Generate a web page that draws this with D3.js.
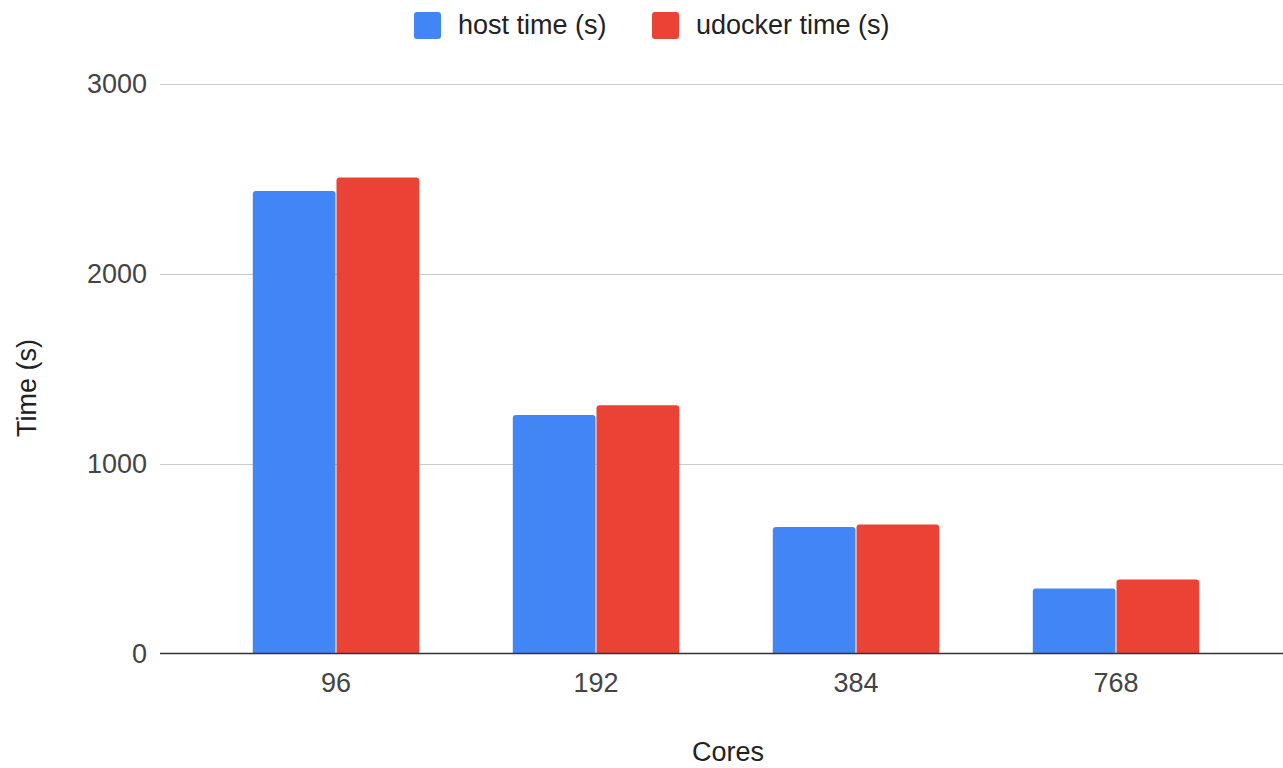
<!DOCTYPE html>
<html>
<head>
<meta charset="utf-8">
<script src="https://cdn.jsdelivr.net/npm/d3@7"></script>
<style>
  html, body { margin: 0; padding: 0; background: #fff; }
  svg { display: block; font-family: "Liberation Sans", Arial, sans-serif; }
</style>
</head>
<body>
<svg id="chart" width="1283" height="768"></svg>
<script>
// Benchmark: run time by core count, host vs udocker
const categories = ["96", "192", "384", "768"];
const seriesNames = ["host time (s)", "udocker time (s)"];
const hostTime = [2437, 1256, 667, 342];
const udockerTime = [2508, 1308, 680, 390];
const yTicks = [0, 1000, 2000, 3000];
const colors = ["#4285F4", "#EA4335"];

const rows = categories.map((c, i) => ({ cat: c, values: [hostTime[i], udockerTime[i]] }));

const svg = d3.select("#chart");
const plot = { left: 160, right: 1283, top: 84, bottom: 653.5 };

const y = d3.scaleLinear().domain([0, 3000]).range([plot.bottom, plot.top]);
const x0 = d3.scaleBand().domain(categories).range([206, 1246])
  .paddingInner(0.36).paddingOuter(0.18);
const x1 = d3.scaleBand().domain([0, 1]).range([0, x0.bandwidth()]).paddingInner(0.012);

// gridlines
svg.append("g").selectAll("line").data(yTicks.filter(d => d > 0)).join("line")
  .attr("x1", plot.left).attr("x2", plot.right)
  .attr("y1", d => Math.round(y(d)) + 0.5).attr("y2", d => Math.round(y(d)) + 0.5)
  .attr("stroke", "#cccccc").attr("stroke-width", 1);

// y tick labels
const yAxis = d3.axisLeft(y).tickValues(yTicks).tickSize(0).tickPadding(0).tickFormat(d3.format("d"));
const yg = svg.append("g").attr("transform", "translate(147,0)").call(yAxis);
yg.select(".domain").remove();
yg.selectAll("text").attr("font-size", 27).attr("fill", "#444").attr("font-family", "Liberation Sans, Arial, sans-serif");

// bars with rounded top corners
function topRounded(x, yTop, w, h, r) {
  r = Math.min(r, w / 2, h);
  return `M${x},${yTop + h}V${yTop + r}Q${x},${yTop} ${x + r},${yTop}H${x + w - r}Q${x + w},${yTop} ${x + w},${yTop + r}V${yTop + h}Z`;
}

const groups = svg.append("g").selectAll("g").data(rows).join("g")
  .attr("transform", d => `translate(${x0(d.cat)},0)`);
groups.selectAll("path").data(d => d.values.map((v, i) => ({ v, i }))).join("path")
  .attr("d", d => topRounded(x1(d.i), y(d.v), x1.bandwidth(), y(0) - y(d.v), 3))
  .attr("fill", d => colors[d.i]);

// baseline
svg.append("line")
  .attr("x1", plot.left).attr("x2", plot.right)
  .attr("y1", plot.bottom).attr("y2", plot.bottom)
  .attr("stroke", "#333").attr("stroke-width", 1.6);

// x tick labels
const xAxis = d3.axisBottom(x0).tickSize(0).tickPadding(0);
const xg = svg.append("g").attr("transform", "translate(0,692)").call(xAxis);
xg.select(".domain").remove();
xg.selectAll("text").attr("dy", 0).attr("font-size", 27).attr("fill", "#444")
  .attr("font-family", "Liberation Sans, Arial, sans-serif");

// axis titles
svg.append("text").attr("x", 728).attr("y", 761).attr("text-anchor", "middle")
  .attr("font-size", 27).attr("fill", "#222").text("Cores");
svg.append("text").attr("transform", "translate(36,388) rotate(-90)").attr("text-anchor", "middle")
  .attr("font-size", 27).attr("fill", "#222").text("Time (s)");

// legend
const legendX = [414, 652];
const lg = svg.append("g").selectAll("g").data(seriesNames).join("g")
  .attr("transform", (d, i) => `translate(${legendX[i]},12)`);
lg.append("rect").attr("width", 27).attr("height", 27).attr("rx", 3)
  .attr("fill", (d, i) => colors[i]);
lg.append("text").attr("x", 44).attr("y", 22).attr("font-size", 27).attr("fill", "#222").text(d => d);
</script>
</body>
</html>
